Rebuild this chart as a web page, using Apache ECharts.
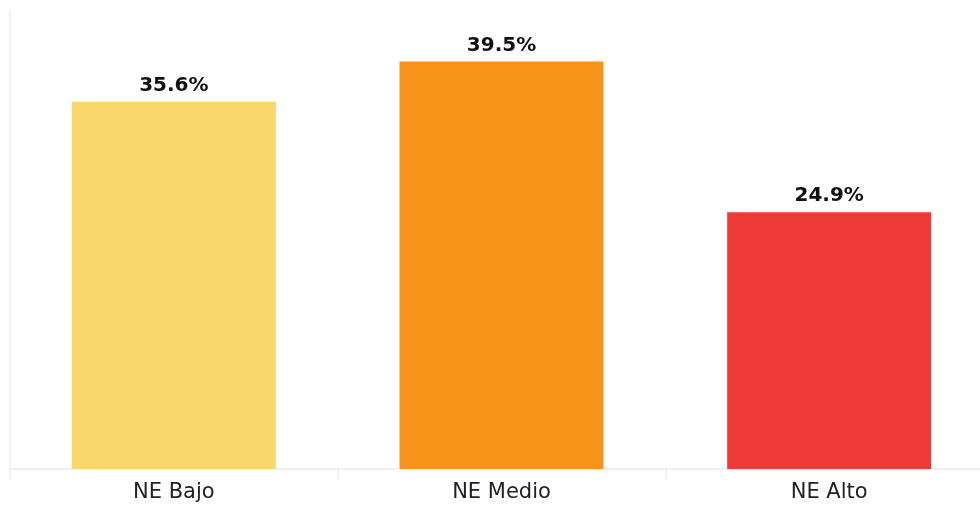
<!DOCTYPE html>
<html><head><meta charset="utf-8">
<script src="https://cdn.jsdelivr.net/npm/echarts@6/dist/echarts.min.js"></script>
<style>html,body{margin:0;padding:0;background:#fff;overflow:hidden;width:980px;height:506px}#c{width:993px;height:506px}</style>
</head><body><div id="c"></div>
<script>
var categories = ['NE Bajo', 'NE Medio', 'NE Alto'];
var values = [35.6, 39.5, 24.9];
var barColors = ['#F9D76A', '#F79318', '#EE3A36'];

var chart = echarts.init(document.getElementById('c'), null, {renderer: 'canvas'});
chart.setOption({
  animation: false,
  grid: {left: 10, right: 0, top: 11, bottom: 37, containLabel: false},
  xAxis: {
    type: 'category',
    data: categories,
    axisLine: {show: true, lineStyle: {color: '#f0f0f0', width: 2}},
    axisTick: {show: true, length: 10, lineStyle: {color: '#f0f0f0', width: 2}},
    axisLabel: {color: '#222', fontFamily: 'DejaVu Sans', fontSize: 21, margin: 13}
  },
  yAxis: {
    type: 'value',
    min: 0, max: 44.4,
    axisLine: {show: true, lineStyle: {color: '#f2f2f2', width: 2}},
    axisTick: {show: false},
    axisLabel: {show: false},
    splitLine: {show: false}
  },
  series: [{
    type: 'bar',
    barWidth: 204,
    data: values.map(function (v, i) { return {value: v, itemStyle: {color: barColors[i]}}; }),
    label: {
      show: true, position: 'top', distance: 6,
      formatter: function (p) { return p.value.toFixed(1) + '%'; },
      color: '#111', fontFamily: 'DejaVu Sans', fontWeight: 'bold', fontSize: 20
    }
  }]
});
</script></body></html>
